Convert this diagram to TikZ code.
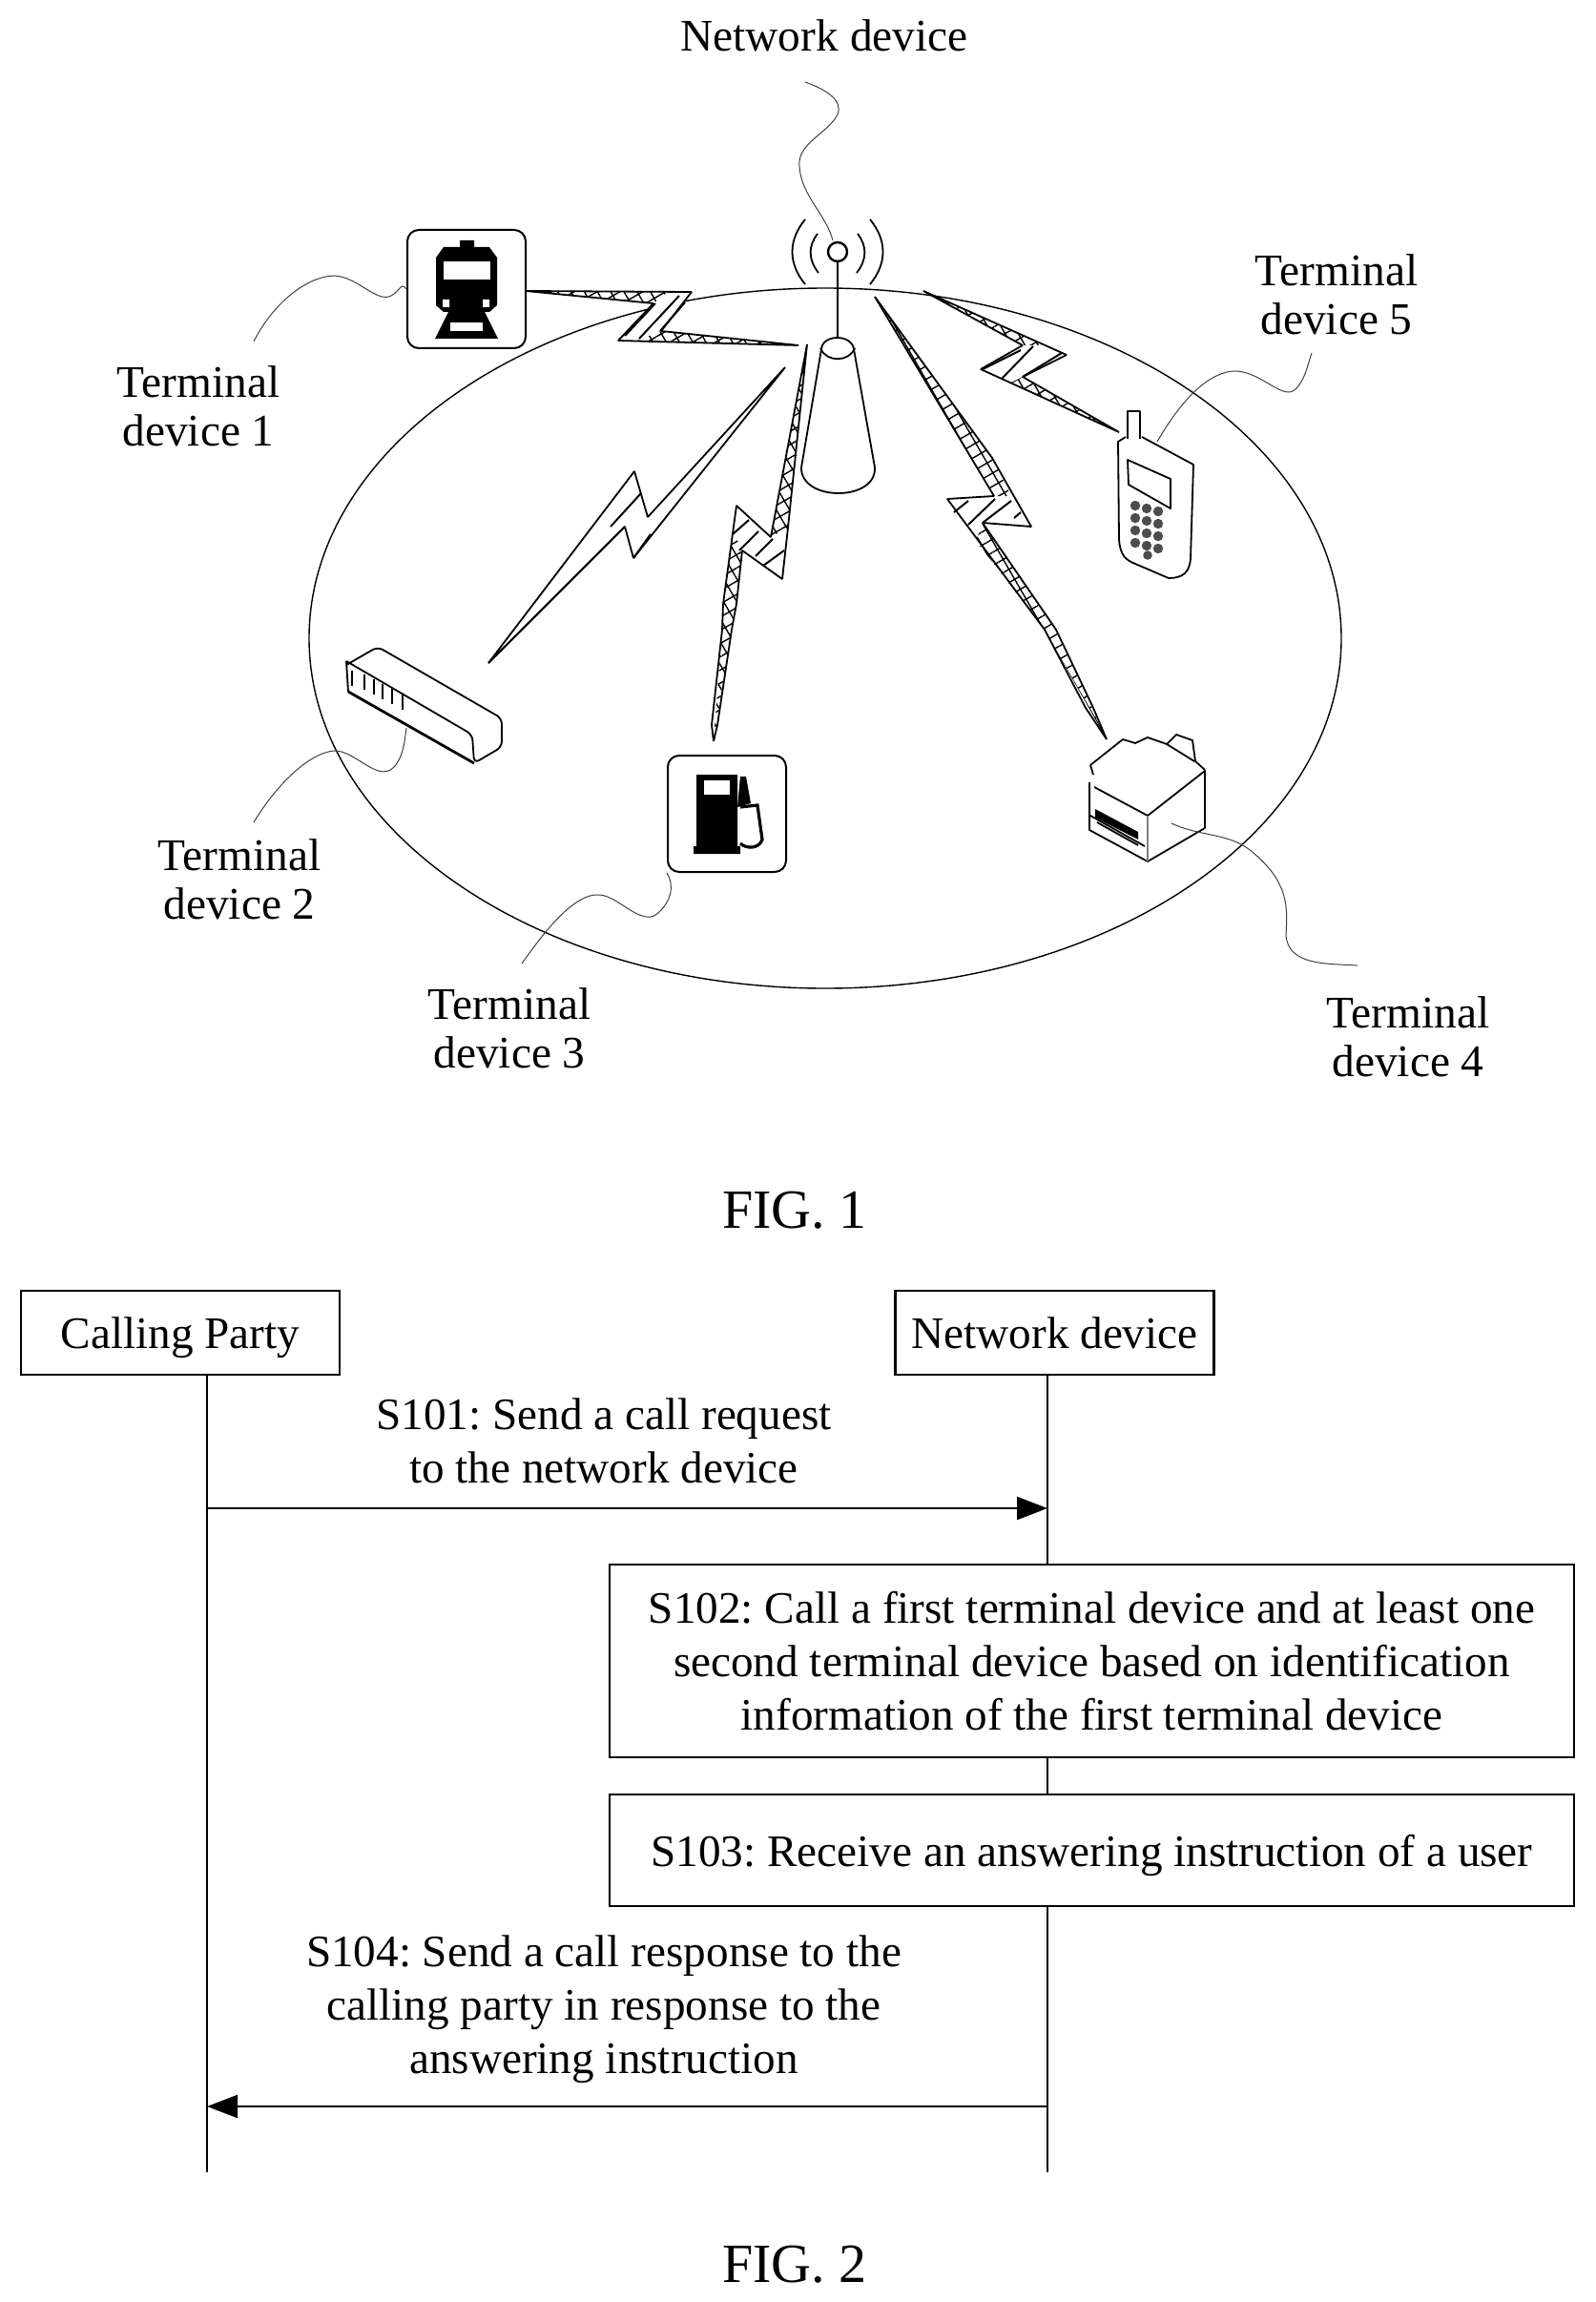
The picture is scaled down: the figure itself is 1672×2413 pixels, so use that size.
\documentclass[tikz,border=0pt]{standalone}
\usepackage{fontspec}
\setmainfont{Liberation Serif}
\frenchspacing
\usetikzlibrary{arrows.meta, patterns.meta}
\newcommand{\lblfont}{\fontsize{23.7}{25.6}\selectfont}
\newcommand{\seqfont}{\fontsize{23.6}{28.1}\selectfont}
\tikzset{
  lbl/.style={font=\lblfont, align=center, inner sep=0pt},
  seqlbl/.style={font=\seqfont, align=center, inner sep=0pt},
  figlbl/.style={font=\fontsize{29}{32}\selectfont, inner sep=0pt},
  devbox/.style={draw, line width=1pt, rounded corners=6pt, minimum width=62pt, minimum height=62pt, inner sep=0pt},
  seqbox/.style={draw, line width=1.1pt, font=\seqfont, align=center, inner sep=0pt},
  leader/.style={black!75, line width=.5pt},
  bolt/.style={draw, fill=white, line width=.9pt, line join=bevel},
  boltin/.style={line width=1pt},
  boltnet/.style={pattern={Hatch[angle=30,distance=6pt,line width=.7pt]}},
  thing/.style={line width=.9pt, line join=round},
  lifeln/.style={line width=.9pt},
  msg/.style={line width=1.1pt, -{Triangle[length=16pt,width=12pt]}}
}
\begin{document}
\begin{tikzpicture}[x=.5pt, y=-.5pt]
\useasboundingbox (0,0) rectangle (1672,2413);

% coverage area
\draw[line width=.7pt] (865,669) ellipse [x radius=270.5pt, y radius=183.5pt];

% labels of fig 1
\node[lbl] (netlbl) at (864,37) {Network device};
\node[lbl] (lbl1) at (208,426) {Terminal\\device 1};
\node[lbl] (lbl2) at (251,922) {Terminal\\device 2};
\node[lbl] (lbl3) at (534,1078) {Terminal\\device 3};
\node[lbl] (lbl4) at (1476,1087) {Terminal\\device 4};
\node[lbl] (lbl5) at (1401,309) {Terminal\\device 5};
\node[figlbl] (fig1) at (833,1269) {FIG. 1};

% radio links
\draw[bolt] (551,305) -- (725,306) -- (693,347) -- (837,362) -- (648,357) -- (685,318) -- cycle;
\path[boltnet] (693,347) -- (837,362) -- (668,357) -- cycle;
\path[boltnet] (551,305) -- (700,306) -- (685,318) -- cycle;
\draw[boltin] (655,352) -- (687,318) (670,355) -- (712,310) (692,347) -- (718,317);

\draw[bolt] (512,695) -- (665,494) -- (679,542) -- (823,385) -- (664,585) -- (655,552) -- cycle;
\draw[boltin] (640,552) -- (672,517) (664,585) -- (682,560) (512,695) -- (655,552);

\draw[bolt] (846,361) -- (808,563) -- (772,530) -- (758,633) -- (757,660) -- (746,760) -- (748,777) -- (752,760) -- (767,660) -- (772,633) -- (778,577) -- (820,607) -- (826,553) -- cycle;
\path[boltnet] (846,361) -- (826,553) -- (808,563) -- cycle;
\path[boltnet] (748,777) -- (767,660) -- (772,633) -- (778,577) -- (769,558) -- (758,633) -- (757,660) -- cycle;
\draw[boltin] (768,560) -- (785,545) (775,577) -- (795,557) (792,583) -- (810,565) (800,593) -- (822,577);

\draw[bolt] (917,311) -- (1040,480) -- (1081,552) -- (1030,548) -- (1107,660) -- (1146,742) -- (1160,775) -- (1138,742) -- (1095,660) -- (993,523) -- (1042,520) -- cycle;
\path[boltnet] (917,311) -- (1040,480) -- (1060,520) -- (1042,520) -- cycle;
\path[boltnet] (1160,775) -- (1107,660) -- (1030,548) -- (1023,567) -- (1095,660) -- cycle;
\draw[boltin] (1000,537) -- (1015,525) (1015,550) -- (1043,523) (1030,548) -- (1060,525) (1063,543) -- (1070,537);

\draw[bolt] (968,305) -- (1118,372) -- (1072,395) -- (1173,453) -- (1028,387) -- (1072,362) -- cycle;
\path[boltnet] (968,305) -- (1095,362) -- (1072,362) -- cycle;
\path[boltnet] (1173,453) -- (1072,395) -- (1060,401) -- cycle;
\draw[boltin] (1030,387) -- (1070,367) (1050,397) -- (1083,363) (1072,395) -- (1113,370);

% network device
\draw[thing, line width=1.3pt] (878,274) -- (878,364);
\draw[thing, fill=white] (861,366) .. controls (862,350) and (893,350) .. (895,366) -- (917,490) .. controls (919,526) and (839,526) .. (840,490) -- cycle;
\draw[thing] (860,365) .. controls (866,380) and (890,380) .. (896,365);
\draw[thing, line width=1.2pt] (878,264) circle [radius=5pt];
\draw[thing] (857,245) .. controls (847,258) and (847,272) .. (858,286);
\draw[thing] (899,245) .. controls (909,258) and (909,272) .. (898,286);
\draw[thing] (844,230) .. controls (826,252) and (826,276) .. (844,298);
\draw[thing] (912,230) .. controls (930,252) and (930,276) .. (912,298);

% terminal device 1
\node[devbox] (dev1) at (489,303) {};
\fill (457,270) -- (465,259) -- (482,259) -- (482,252) -- (497,252) -- (497,259) -- (513,259) -- (521,270) -- (521,320) -- (513,327) -- (465,327) -- (457,320) -- cycle;
\fill[white] (465,274) rectangle (514,293);
\fill[white] (464,314) rectangle (471,322) (506,314) rectangle (513,322);
\fill (470,327) -- (456,355) -- (522,355) -- (508,327) -- cycle;
\fill[white] (472,338) rectangle (506,347);

% terminal device 2
\draw[thing, rounded corners=3pt] (363,697) -- (396,678) -- (526,753) -- (526,783) -- (497,800) -- (495,770) -- (363,693);
\draw[thing, rounded corners=3pt] (363,693) -- (365,725);
\draw[thing, line width=1.4pt] (365,725) -- (497,800);
\coordinate (dev2) at (426,763);
\foreach \px/\py in {369/703, 382/707, 392/712, 401/717, 411/722, 422/728}
  \draw[line width=1.1pt] (\px,\py) -- ++(0,16);

% terminal device 3
\node[devbox, minimum height=61pt] (dev3) at (762,853) {};
\fill (727,895) -- (727,887) -- (730,887) -- (730,812) -- (773,812) -- (773,887) -- (776,887) -- (776,895) -- cycle;
\fill[white] (738,818) rectangle (765,833);
\fill (776,814) -- (782,814) -- (787,842) -- (773,846) -- cycle;
\draw[line width=1.6pt] (776,846) -- (794,844) -- (799,880) .. controls (796,890) and (782,890) .. (776,884);

% terminal device 4
\draw[thing] (1143,802) -- (1177,775) -- (1190,779) -- (1203,773) -- (1223,780) -- (1233,770) -- (1250,776) -- (1253,798) -- (1263,807);
\draw[thing] (1223,780) -- (1252,798);
\draw[thing] (1143,802) -- (1146,812);
\draw[thing] (1147,825) -- (1203,855) -- (1263,808) -- (1263,868) -- (1203,903) -- (1142,870) -- (1142,820);
\draw[thing, gray] (1203,855) -- (1203,903);
\fill (1148,848) -- (1193,872) -- (1193,880) -- (1148,857) -- cycle;
\draw[thing] (1143,855) -- (1200,887) (1150,862) -- (1193,886);
\coordinate (dev4) at (1228,863);

% terminal device 5
\draw[thing] (1180,458) -- (1172,463) -- (1173,565) .. controls (1174,582) and (1180,587) .. (1190,591) -- (1225,606) .. controls (1240,606) and (1247,600) .. (1248,585) -- (1251,487) -- (1197,458);
\draw[thing, line width=1.3pt, fill=white] (1182,460) -- (1182,431) -- (1195,431) -- (1195,460);
\draw[thing] (1182,482) -- (1227,502) -- (1227,533) -- (1183,508) -- cycle;
\foreach \kx in {0,1,2}
  \foreach \ky in {0,1,2,3}
    \fill[black!70] (1190+12*\kx,530+13*\ky+3*\kx) circle [radius=2.6pt];
\fill[black!70] (1203,582) circle [radius=2.4pt];
\coordinate (dev5) at (1213,463);

% leaders
\coordinate (n1) at (844,86);
\draw[leader] (n1) .. controls (866,94) and (884,105) .. (878,120) .. controls (868,140) and (835,150) .. (838,175) .. controls (840,205) and (866,225) .. (873,252);
\coordinate (l1) at (266,358);
\draw[leader] (l1) .. controls (285,320) and (320,290) .. (350,289) .. controls (375,290) and (395,318) .. (410,310) .. controls (420,305) and (420,295) .. (dev1.west);
\coordinate (l2) at (266,862);
\draw[leader] (l2) .. controls (285,830) and (320,790) .. (350,787) .. controls (372,786) and (395,820) .. (412,805) .. controls (422,795) and (424,780) .. (dev2);
\coordinate (l3) at (547,1010);
\draw[leader] (l3) .. controls (565,985) and (600,935) .. (629,938) .. controls (650,940) and (675,975) .. (692,955) .. controls (702,945) and (708,930) .. (dev3.south west);
\coordinate (l4) at (1423,1012);
\draw[leader] (dev4) .. controls (1260,878) and (1290,872) .. (1315,895) .. controls (1350,925) and (1350,950) .. (1348,980) .. controls (1350,1012) and (1390,1010) .. (l4);
\coordinate (l5) at (1375,370);
\draw[leader] (dev5) .. controls (1235,425) and (1265,388) .. (1297,389) .. controls (1325,392) and (1345,420) .. (1358,408) .. controls (1368,398) and (1370,385) .. (l5);

% fig 2
\node[seqbox, text depth=0pt, minimum width=167pt, minimum height=44pt] (caller) at (189,1397) {Calling Party};
\node[seqbox, minimum width=167pt, minimum height=44pt] (netw) at (1105.5,1397) {Network device};
\node[seqbox, minimum width=505.5pt, minimum height=101pt] (s102) at (1144.5,1741) {S102: Call a first terminal device and at least one\\second terminal device based on identification\\information of the first terminal device};
\node[seqbox, text depth=0pt, minimum width=505.5pt, minimum height=58.5pt] (s103) at (1144.5,1939.5) {S103: Receive an answering instruction of a user};

\coordinate (ca) at (217,1441);
\coordinate (cb) at (217,2277);
\coordinate (na) at (1098,1441);
\coordinate (nb) at (1098,1641);
\coordinate (nc) at (1098,1843);
\coordinate (nd) at (1098,1881);
\coordinate (ne) at (1098,1998);
\coordinate (nf) at (1098,2277);
\draw[lifeln] (ca) -- (cb);
\draw[lifeln] (na) -- (nb);
\draw[lifeln] (nc) -- (nd);
\draw[lifeln] (ne) -- (nf);

\coordinate (m1a) at (217,1581);
\coordinate (m1b) at (1098,1581);
\coordinate (m2a) at (1098,2208);
\coordinate (m2b) at (217,2208);
\draw[msg] (m1a) -- (m1b);
\draw[msg] (m2a) -- (m2b);

\node[seqlbl] (s101) at (633,1510) {S101: Send a call request\\to the network device};
\node[seqlbl] (s104) at (633,2106) {S104: Send a call response to the\\calling party in response to the\\answering instruction};
\node[figlbl] (fig2) at (833,2374) {FIG. 2};
\end{tikzpicture}
\end{document}
